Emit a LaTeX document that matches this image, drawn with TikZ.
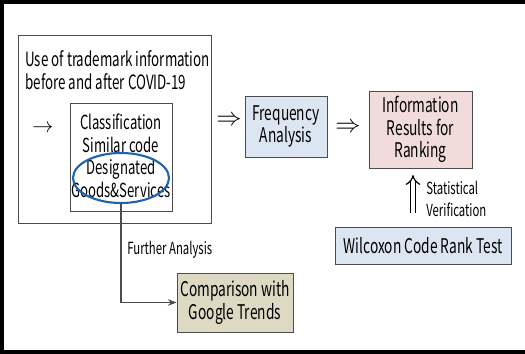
\documentclass[tikz,border=0pt]{standalone}
\usepackage{fontspec}
\setmainfont{Noto Sans CJK KR}[FakeStretch=0.68]
\usetikzlibrary{arrows.meta}
\definecolor{freqblue}{RGB}{220,230,242}
\definecolor{rankpink}{RGB}{242,220,219}
\definecolor{trendtan}{RGB}{221,217,195}
\definecolor{ringblue}{RGB}{31,100,170}
\begin{document}
\begin{tikzpicture}[x=0.02cm,y=-0.02cm,
    box/.style={draw=black!70,inner sep=0pt,align=center,font=\fontsize{11.5}{13}\selectfont},
    lbl/.style={inner sep=0pt,align=left,font=\fontsize{9.5}{12.5}\selectfont}]
    \useasboundingbox (0,0) rectangle (525,354);
    \draw[line width=2.5pt] (527,2) -- (2,2) -- (2,352) -- (527,352);

    % left part
    \node[box,minimum width=193*0.02cm,minimum height=188*0.02cm] (outer) at (114.5,129) {};
    \node[font=\fontsize{11.2}{13}\selectfont,anchor=north west,align=left,inner sep=0pt] (title) at (25,50) {Use of trademark information\\before and after COVID-19};
    \node[box,minimum width=102*0.02cm,minimum height=108*0.02cm] (inner) at (121,157) {};
    \node[font=\fontsize{11}{12.8}\selectfont,align=center,inner sep=0pt] (codes) at (121,156) {Classification\\Similar code\\Designated\\Goods\&Services};
    \node[font=\large,inner sep=0pt] (arr) at (43,129) {$\rightarrow$};
    \draw[ringblue,line width=1.2pt] (121,178) ellipse (48 and 25);
    \coordinate (ringbot) at (121,203);

    % right part
    \node[box,fill=freqblue,minimum width=82*0.02cm,minimum height=61*0.02cm] (freq) at (286,126.5) {Frequency\\Analysis};
    \node[box,fill=rankpink,minimum width=103*0.02cm,minimum height=77*0.02cm] (rank) at (420.5,129.5) {Information\\Results for\\Ranking};
    \node[box,fill=freqblue,minimum width=176*0.02cm,minimum height=37*0.02cm] (wilc) at (423,245.5) {Wilcoxon Code Rank Test};
    \node[box,fill=trendtan,minimum width=116*0.02cm,minimum height=59*0.02cm] (trend) at (235,302.5) {Comparison with\\Google Trends};

    \node[font=\Large,inner sep=0pt] (imp1) at (229,121) {$\Rightarrow$};
    \node[font=\Large,inner sep=0pt] (imp2) at (348,128) {$\Rightarrow$};

    % verification arrow
    \coordinate (vbot) at (413,213);
    \coordinate (vtop) at (413,175);
    \draw[-{Implies},double,double distance=2.2pt,line width=0.7pt] (vbot) -- (vtop);
    \node[lbl,anchor=west] (stat) at (426,199) {Statistical\\Verification};

    % further analysis
    \draw[black!70,line width=0.8pt,-{Stealth[length=5pt]}] (ringbot) |- (trend.west);
    \node[lbl,anchor=west] (furth) at (127,250) {Further Analysis};
\end{tikzpicture}
\end{document}
